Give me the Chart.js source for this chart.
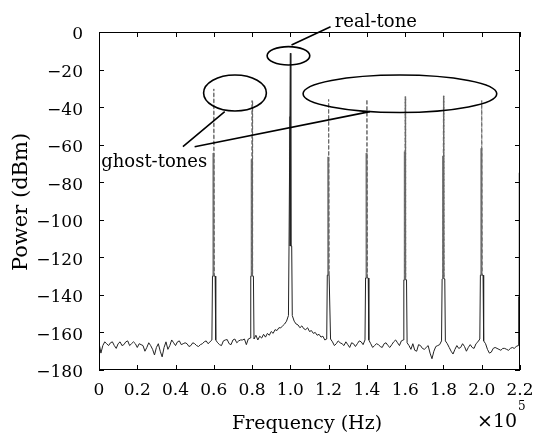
<!DOCTYPE html>
<html>
<head>
<meta charset="utf-8">
<script src="https://cdn.jsdelivr.net/npm/chart.js@4.4.1/dist/chart.umd.min.js"></script>
<style>
  html, body { margin: 0; padding: 0; background: #fff; }
  #wrap { width: 538px; height: 433px; }
</style>
</head>
<body>
<div id="wrap"><canvas id="spectrum" width="538" height="433"></canvas></div>
<script>
// Noise floor, one value per 1 kHz bin from 0 to 220 kHz (dBm)
const binHz = 1000;
const noiseFloor = [
    -165.5, -171, -167, -165, -166, -167, -165.5, -165, -167, -168.5,
    -166, -165, -167, -166.5, -165, -164.5, -167, -166, -165, -166,
    -168, -166, -166.5, -167, -170, -168, -165.5, -167, -169, -172,
    -168, -166, -170, -173, -168, -165, -169, -167, -164, -165.5,
    -167, -165, -164.5, -166.5, -166, -165.5, -166, -167.5, -167, -165.5,
    -166, -167, -167.5, -166.5, -166, -165, -164.5, -166, -165, -164,
    -164, -164, -165.5, -166.5, -167, -164.5, -164, -163.8, -166, -166.5,
    -164, -163.5, -165.5, -164.5, -164, -164, -163.5, -166.5, -163.5, -163,
    -163, -163.5, -161.5, -164, -162, -163, -161, -162.5, -160.5, -161.5,
    -159.5, -160.5, -158.5, -159, -157.5, -157.5, -156.5, -155.5, -154, -151,
    -151, -151, -154, -155.5, -156, -157.5, -156.5, -158, -158.5, -157.5,
    -159.5, -159, -160.5, -160, -161.5, -161, -162.5, -162, -164, -163.5,
    -163.5, -163.5, -165, -167, -166, -164.5, -165.5, -166, -167, -165,
    -166.5, -168, -165.5, -166, -167.5, -166, -164.5, -165, -166.5, -164,
    -164, -164, -166, -168, -167, -166, -166.5, -167.5, -168, -166,
    -165.5, -167, -168, -166.5, -165, -164, -165.5, -167, -164.5, -164,
    -164, -165.5, -167, -169, -166, -169.5, -170, -166.5, -167, -168.5,
    -169, -168, -167, -171, -174, -170, -167.5, -167, -166.5, -164.5,
    -164.5, -164.5, -166, -168, -170, -171.5, -169, -167, -168.5, -168,
    -166, -167.5, -170, -168, -166.5, -168, -168.5, -166, -165, -163.5,
    -163.5, -164.5, -166, -169, -171, -170.5, -168.5, -168, -168.5, -169,
    -169.5, -168.5, -168.5, -169, -169.5, -168.5, -168, -168.5, -167.5, -167,
    -167,
];

// Tones: centre frequency (Hz), peak of the main trace, peak of the second trace, shoulder level (dBm)
const toneFreqs = [60000, 80000, 100000, 120000, 140000, 160000, 180000, 200000, 220000];
const tonePeaks = [-30.3, -36.5, -11.3, -35.9, -35.9, -34.4, -34, -36.5, -45];
const toneInnerPeaks = [-64.5, -67.8, -45, -66.4, -64.5, -63.6, -66, -61.9, -75];
const toneShoulders = [-130, -130, -114, -129.5, -131, -132, -131.5, -129.5, -141];

// Axis ticks
const xTicks = [0, 20000, 40000, 60000, 80000, 100000, 120000, 140000, 160000, 180000, 200000, 220000];
const xTickLabels = ["0", "0.2", "0.4", "0.6", "0.8", "1.0", "1.2", "1.4", "1.6", "1.8", "2.0", "2.2"];
const yTicks = [0, -20, -40, -60, -80, -100, -120, -140, -160, -180];
const yTickLabels = ["0", "\u221220", "\u221240", "\u221260", "\u221280", "\u2212100", "\u2212120", "\u2212140", "\u2212160", "\u2212180"];

// Annotations, in data units (Hz, dBm)
const ellipses = [
    { cx: 99000, cy: -12.7, rx: 11150, ry: 4.9 },
    { cx: 71060, cy: -32.5, rx: 16400, ry: 9.6 },
    { cx: 157250, cy: -32.9, rx: 50600, ry: 10 },
];
const leaders = [
    [121000, 2.8, 100600, -6.9],
    [43850, -61.1, 65700, -42.4],
    [49970, -61.1, 141550, -42.4],
];
const notes = [
    { text: "real-tone", x: 123200, y: 2.4 },
    { text: "ghost-tones", x: 1150, y: -71.7 },
];

const serif = "'DejaVu Serif', 'Liberation Serif', serif";
const toneShape = [-700, -250, 0, 250, 700];

// Main trace: noise floor with the tones spliced in
function buildTrace() {
    const pts = [];
    noiseFloor.forEach((p, i) => {
        const f = i * binHz;
        const k = toneFreqs.indexOf(f);
        if (k < 0) {
            pts.push({ x: f, y: p });
            return;
        }
        toneShape.forEach((d) => {
            pts.push({ x: f + d, y: d === 0 ? tonePeaks[k] : toneShoulders[k] });
        });
    });
    return pts;
}

// Second trace: the lower, heavier part of each tone
function buildInner() {
    const pts = [];
    toneFreqs.forEach((f, k) => {
        pts.push({ x: f - 200, y: toneShoulders[k] });
        pts.push({ x: f - 200, y: toneInnerPeaks[k] });
        pts.push({ x: f - 200, y: null });
    });
    return pts;
}

// ghost tone tops are drawn lighter and dashed, the real tone stays solid
function isGhostTop(ctx) {
    const top = Math.max(ctx.p0.parsed.y, ctx.p1.parsed.y);
    return top > -100 && top < -20;
}

// Frame, inward ticks, titles and annotations
const decorations = {
    id: "decorations",
    afterDraw(chart) {
        const { ctx, chartArea: a, scales } = chart;
        const xs = scales.x;
        const ys = scales.y;
        const px = (v) => xs.getPixelForValue(v);
        const py = (v) => ys.getPixelForValue(v);

        ctx.save();
        ctx.strokeStyle = "#000";
        ctx.lineWidth = 1;
        ctx.strokeRect(a.left + 0.5, a.top + 0.5, a.right - a.left - 1, a.bottom - a.top - 1);

        ctx.beginPath();
        xTicks.forEach((v) => {
            const x = Math.round(px(v)) + 0.5;
            ctx.moveTo(x, a.bottom);
            ctx.lineTo(x, a.bottom - 5);
            ctx.moveTo(x, a.top);
            ctx.lineTo(x, a.top + 5);
        });
        yTicks.forEach((v) => {
            const y = Math.round(py(v)) + 0.5;
            ctx.moveTo(a.left, y);
            ctx.lineTo(a.left + 5, y);
            ctx.moveTo(a.right, y);
            ctx.lineTo(a.right - 5, y);
        });
        ctx.stroke();

        // axis titles
        ctx.fillStyle = "#000";
        ctx.font = "19px " + serif;
        ctx.textAlign = "center";
        ctx.textBaseline = "alphabetic";
        ctx.fillText("Frequency (Hz)", 307, 429);
        ctx.save();
        ctx.translate(22, 202);
        ctx.rotate(-Math.PI / 2);
        ctx.font = "21px " + serif;
        ctx.textBaseline = "middle";
        ctx.fillText("Power (dBm)", 0, 0);
        ctx.restore();
        ctx.textAlign = "left";
        ctx.fillText("\u00d710", 477, 427);
        ctx.font = "12px " + serif;
        ctx.fillText("5", 518, 410);

        // ellipses and leader lines
        ctx.lineWidth = 1.6;
        ellipses.forEach((e) => {
            const cx = px(e.cx);
            const cy = py(e.cy);
            const rx = Math.abs(px(e.cx + e.rx) - cx);
            const ry = Math.abs(py(e.cy + e.ry) - cy);
            ctx.beginPath();
            ctx.ellipse(cx, cy, rx, ry, 0, 0, Math.PI * 2);
            ctx.stroke();
        });
        ctx.beginPath();
        leaders.forEach(([x1, y1, x2, y2]) => {
            ctx.moveTo(px(x1), py(y1));
            ctx.lineTo(px(x2), py(y2));
        });
        ctx.stroke();

        ctx.font = "18px " + serif;
        ctx.textBaseline = "alphabetic";
        notes.forEach((n) => ctx.fillText(n.text, px(n.x), py(n.y)));
        ctx.restore();
    },
};

new Chart(document.getElementById("spectrum"), {
    type: "line",
    data: {
        datasets: [
            {
                data: buildTrace(),
                borderColor: "#222",
                borderWidth: 1,
                pointRadius: 0,
                tension: 0,
                segment: {
                    borderColor: (ctx) => (isGhostTop(ctx) ? "#666" : undefined),
                    borderDash: (ctx) => (isGhostTop(ctx) ? [4, 2] : undefined),
                },
            },
            {
                data: buildInner(),
                borderColor: "#777",
                borderWidth: 2,
                pointRadius: 0,
                spanGaps: false,
            },
        ],
    },
    options: {
        responsive: false,
        animation: false,
        events: [],
        layout: { padding: { top: 32, right: 18, left: 0, bottom: 0 } },
        plugins: {
            legend: { display: false },
            tooltip: { enabled: false },
        },
        scales: {
            x: {
                type: "linear",
                min: 0,
                max: 220000,
                grid: { display: false, drawTicks: false },
                border: { display: false },
                afterBuildTicks: (s) => {
                    s.ticks = xTicks.map((v) => ({ value: v }));
                },
                afterFit: (s) => {
                    s.height = 63;
                    s.paddingLeft = 0;
                    s.paddingRight = 0;
                },
                ticks: {
                    autoSkip: false,
                    maxRotation: 0,
                    padding: 10,
                    color: "#000",
                    font: { family: serif, size: 17 },
                    callback: (v, i) => xTickLabels[i],
                },
            },
            y: {
                type: "linear",
                min: -180,
                max: 0,
                grid: { display: false, drawTicks: false },
                border: { display: false },
                afterBuildTicks: (s) => {
                    s.ticks = yTicks.map((v) => ({ value: v }));
                },
                afterFit: (s) => {
                    s.width = 99;
                    s.paddingTop = 0;
                    s.paddingBottom = 0;
                },
                ticks: {
                    autoSkip: false,
                    padding: 16,
                    labelOffset: 3,
                    color: "#000",
                    font: { family: serif, size: 17 },
                    callback: (v, i) => yTickLabels[i],
                },
            },
        },
    },
    plugins: [decorations],
});
</script>
</body>
</html>
